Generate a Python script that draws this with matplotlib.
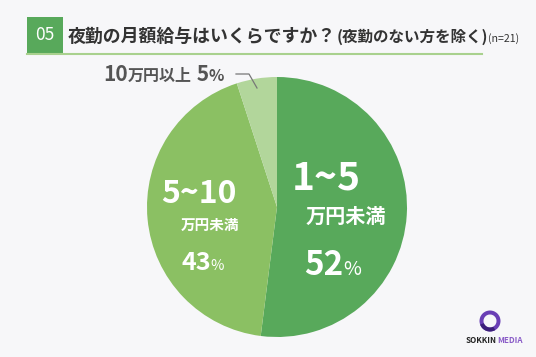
import matplotlib
matplotlib.use("Agg")
import matplotlib.pyplot as plt
from matplotlib.patches import Rectangle, Wedge
from matplotlib.lines import Line2D

plt.rcParams['font.family'] = ['Noto Sans CJK JP', 'DejaVu Sans']

# data
categories = ["1~5万円未満", "5~10万円未満", "10万円以上"]
values = [52, 43, 5]
colors = ["#58a95b", "#8bc063", "#b2d69b"]

W, H = 536, 357
fig = plt.figure(figsize=(W / 100, H / 100), dpi=100)
fig.patch.set_facecolor("#f7f7f9")
renderer = fig.canvas.get_renderer()

def fx(x):
    return x / W

def fy(y):
    return 1 - y / H

def chain(x, y, parts, color, gap=0):
    """parts: list of (text, fontsize, weight, color or None)"""
    cur = x
    for t, fs, wt, c in parts:
        txt = fig.text(fx(cur), fy(y), t, color=c or color, fontsize=fs, fontweight=wt,
                       ha="left", va="baseline")
        bb = txt.get_window_extent(renderer=renderer)
        cur += bb.width + gap
    return cur

# header
fig.patches.append(Rectangle((fx(27), fy(53)), fx(63) - fx(27), fy(17) - fy(53),
                             transform=fig.transFigure, facecolor="#58a95b", edgecolor="none"))
fig.text(fx(45), fy(35.5), "05", color="white", fontsize=12.5, ha="center", va="center")
fig.lines.append(Line2D([fx(27), fx(482)], [fy(53.5), fy(53.5)], transform=fig.transFigure,
                        color="#a9d18e", linewidth=1.5))
chain(68, 42, [("夜勤の月額給与はいくらですか？", 12.9, "bold", None),
               ("(夜勤のない方を除く)", 11.2, "bold", None),
               ("(n=21)", 7.6, "normal", None)], "#333333")

# pie
cx, cy, r = 277, 207, 130
ax = fig.add_axes([fx(cx - r), fy(cy + r), (2 * r) / W, (2 * r) / H])
ax.pie(values, colors=colors, startangle=90, counterclock=False,
       wedgeprops=dict(linewidth=0), radius=1)
ax.set_xlim(-1, 1)
ax.set_ylim(-1, 1)
ax.set_aspect("auto")
ax.axis("off")

# labels inside slices
fig.text(fx(292), fy(190), "1~5", color="white", fontsize=28, fontweight="bold",
         ha="left", va="baseline")
fig.text(fx(306), fy(223), "万円未満", color="white", fontsize=14.5, fontweight="bold",
         ha="left", va="baseline")
chain(304, 275, [("52", 24, "bold", None), ("%", 14, "normal", None)], "white")

fig.text(fx(161), fy(203), "5~10", color="white", fontsize=23, fontweight="bold",
         ha="left", va="baseline")
fig.text(fx(181), fy(230), "万円未満", color="white", fontsize=10.5, fontweight="bold",
         ha="left", va="baseline")
chain(181, 270, [("43", 18, "bold", None), ("%", 10.5, "normal", None)], "white")

# outside label for small slice
chain(103, 81, [("10", 15, "bold", None), ("万円以上", 11.5, "bold", None),
                (" 5", 15, "bold", None), ("%", 11.5, "bold", None)], "#555555")
fig.lines.append(Line2D([fx(236), fx(249), fx(257)], [fy(74), fy(74), fy(88)],
                        transform=fig.transFigure, color="#777777", linewidth=0.9))

# logo
lax = fig.add_axes([fx(470), fy(335), 40 / W, 28 / H])
lax.set_xlim(-20, 20)
lax.set_ylim(-14, 14)
lax.set_aspect("equal")
lax.axis("off")
lax.add_patch(Wedge((0, 0), 10.5, 0, 360, width=4, facecolor="#6a3fb5", edgecolor="none"))
lax.add_patch(Wedge((0, 0), 10.5, 200, 300, width=4, facecolor="#3c1f7a", edgecolor="none"))
chain(466, 343, [("SOKKIN", 5.8, "bold", None), ("MEDIA", 5.8, "bold", "#8a5cc8")], "#222222")

fig.savefig("out.png", dpi=100, facecolor=fig.get_facecolor())
